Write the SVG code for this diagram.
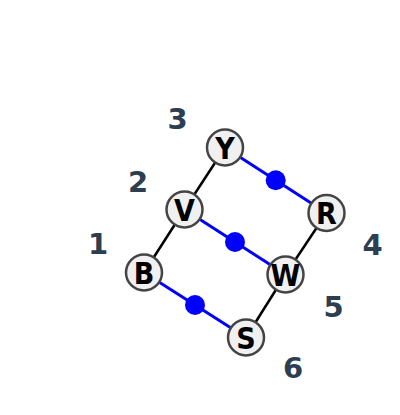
<svg xmlns="http://www.w3.org/2000/svg" width="400" height="415" viewBox="0 0 400 415">
<style>
.bk{stroke:#000;stroke-width:2.5;fill:none}
.bl{stroke:#0000ff;stroke-width:3;fill:none}
.dot{fill:#0000ff}
.node circle{fill:#f0f0f0;stroke:#444;stroke-width:2.5}
.node text{font-family:"DejaVu Sans Condensed","DejaVu Sans",sans-serif;font-weight:bold;font-size:30px;fill:#000;text-anchor:middle}
.num{font-family:"DejaVu Sans",sans-serif;font-weight:bold;font-size:29px;fill:#2c3e50;text-anchor:middle}
</style>
<rect width="400" height="415" fill="#fff"/>
<g id="connectors">
<line class="bk" x1="144" y1="272.5" x2="184.5" y2="209.5"/>
<line class="bk" x1="184.5" y1="209.5" x2="225" y2="147.5"/>
<line class="bk" x1="246" y1="337.5" x2="285.5" y2="274.5"/>
<line class="bk" x1="285.5" y1="274.5" x2="326.5" y2="213"/>
<line class="bl" x1="144" y1="272.5" x2="246" y2="337.5"/>
<line class="bl" x1="184.5" y1="209.5" x2="285.5" y2="274.5"/>
<line class="bl" x1="225" y1="147.5" x2="326.5" y2="213"/>
<circle class="dot" cx="195" cy="305" r="10"/>
<circle class="dot" cx="235" cy="242" r="10"/>
<circle class="dot" cx="275.7" cy="180.2" r="10"/>
</g>
<g id="node-B" class="node"><circle cx="144" cy="272.5" r="18"/><text x="144" y="283.5">B</text></g>
<g id="node-V" class="node"><circle cx="184.5" cy="209.5" r="18"/><text x="184.5" y="220.5">V</text></g>
<g id="node-Y" class="node"><circle cx="225" cy="147.5" r="18"/><text x="225" y="158.5">Y</text></g>
<g id="node-S" class="node"><circle cx="246" cy="337.5" r="18"/><text x="246" y="348.5">S</text></g>
<g id="node-W" class="node"><circle cx="285.5" cy="274.5" r="18"/><text x="285.5" y="285.5">W</text></g>
<g id="node-R" class="node"><circle cx="326.5" cy="213" r="18"/><text x="326.5" y="224">R</text></g>
<g id="labels">
<text class="num" x="98" y="254">1</text>
<text class="num" x="138" y="192">2</text>
<text class="num" x="177.5" y="128.5">3</text>
<text class="num" x="372.5" y="255">4</text>
<text class="num" x="333.5" y="316.5">5</text>
<text class="num" x="293" y="378">6</text>
</g>
</svg>
